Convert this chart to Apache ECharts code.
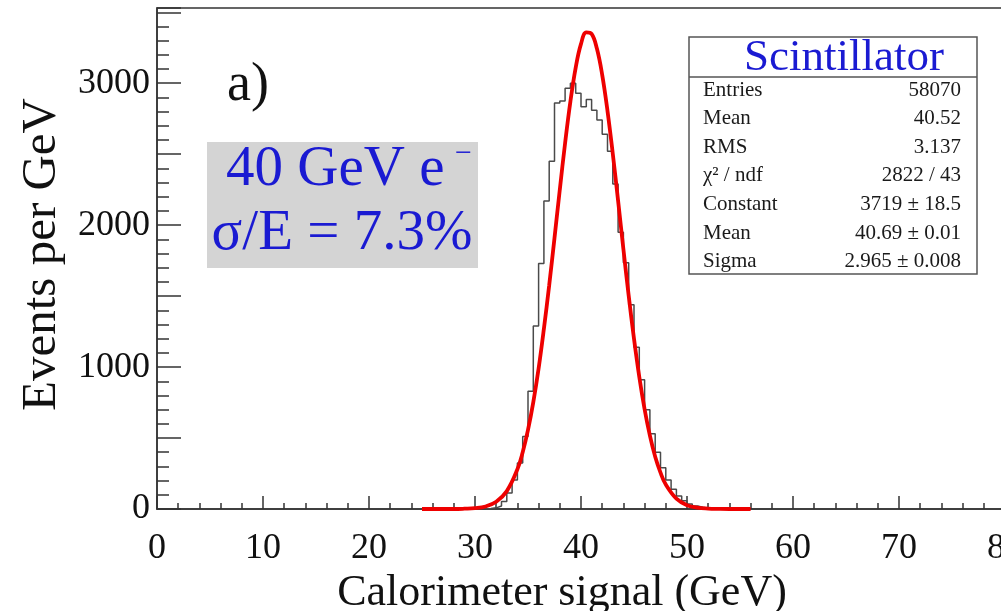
<!DOCTYPE html>
<html>
<head>
<meta charset="utf-8">
<script src="https://cdn.jsdelivr.net/npm/echarts@6/dist/echarts.min.js"></script>
<style>
  html, body { margin: 0; padding: 0; background: #fff; }
  #chart { width: 1001px; height: 611px; }
</style>
</head>
<body>
<div id="chart"></div>
<script>
// Histogram: counts per 0.5 GeV bin, first bin starting at histStart
const histStart = 31.0;
const binWidth = 0.5;
const histCounts = [
  3, 8, 21, 52, 113, 205, 324, 510, 830, 1290,
  1730, 2170, 2450, 2860, 2875, 2965, 3000, 2930, 2835, 2885,
  2810, 2740, 2640, 2520, 2290, 1950, 1735, 1440, 1140, 910,
  700, 530, 400, 290, 205, 140, 92, 58, 36, 21,
  12, 6, 3, 1
];

// Gaussian fit curve sampled along the fit range
const fitX = [25, 26, 27, 28, 29, 30, 31, 32, 33, 34, 34.5, 35, 35.5, 36, 36.5, 37, 37.5, 38, 38.5, 39,
  39.5, 40, 40.5, 41, 41.5, 42, 42.5, 43, 43.5, 44, 44.5, 45, 45.5, 46, 46.5, 47, 47.5, 48, 49, 50,
  51, 52, 53, 54, 55, 56];
const fitY = [0, 0, 0, 0, 2, 6, 18, 51, 126, 280, 400, 557, 753, 990, 1270, 1577, 1910, 2250, 2578, 2871,
  3110, 3277, 3358, 3347, 3244, 3059, 2805, 2502, 2172, 1831, 1503, 1199, 930, 703, 517, 368, 256, 172, 73, 27,
  9, 3, 1, 0, 0, 0];

// Axis settings
const xTicks = [0, 10, 20, 30, 40, 50, 60, 70, 80];
const yLabelValues = [0, 1000, 2000, 3000];

// Statistics box contents
const statsTitle = 'Scintillator';
const statsNames = ['Entries', 'Mean', 'RMS', 'χ² / ndf', 'Constant', 'Mean', 'Sigma'];
const statsValues = ['58070', '40.52', '3.137', '2822 / 43', '3719 ± 18.5', '40.69 ± 0.01', '2.965 ± 0.008'];

const FONT = '"Liberation Serif", "DejaVu Serif", serif';
const BLUE = '#1a1ad2';

// step outline: each bin starts at its lower edge, outline closes back to zero
const histData = [[histStart, 0]];
histCounts.forEach((c, i) => histData.push([histStart + i * binWidth, c]));
histData.push([histStart + histCounts.length * binWidth, 0]);
const fitData = fitX.map((x, i) => [x, fitY[i]]);

const chart = echarts.init(document.getElementById('chart'), null, { renderer: 'canvas' });

const statsTop = 37, statsLeft = 689, statsW = 288, statsH = 237;
const rowY0 = 90, rowStep = 28.6;
const statsGraphics = [
  { type: 'rect', shape: { x: statsLeft, y: statsTop, width: statsW, height: statsH },
    style: { fill: '#fff', stroke: '#555', lineWidth: 1.5 }, z: 10 },
  { type: 'line', shape: { x1: statsLeft, y1: 77, x2: statsLeft + statsW, y2: 77 },
    style: { stroke: '#555', lineWidth: 1.5 }, z: 11 },
  { type: 'text', x: 844, y: 58, z: 11,
    style: { text: statsTitle, font: '45px ' + FONT, fill: BLUE, align: 'center', verticalAlign: 'middle' } }
];
statsNames.forEach((n, i) => {
  statsGraphics.push({ type: 'text', x: 703, y: rowY0 + i * rowStep, z: 11,
    style: { text: n, font: '21px ' + FONT, fill: '#1a1a1a', align: 'left', verticalAlign: 'middle' } });
  statsGraphics.push({ type: 'text', x: 961, y: rowY0 + i * rowStep, z: 11,
    style: { text: statsValues[i], font: '21px ' + FONT, fill: '#1a1a1a', align: 'right', verticalAlign: 'middle' } });
});

const option = {
  animation: false,
  backgroundColor: '#fff',
  grid: { left: 157, right: -4, top: 8, bottom: 102, show: true, borderColor: '#333', borderWidth: 1.5,
    containLabel: false, outerBoundsMode: 'none' },
  xAxis: {
    type: 'value', min: 0, max: 80, interval: 10,
    name: 'Calorimeter signal (GeV)', nameLocation: 'middle', nameGap: 53,
    nameTextStyle: { fontFamily: FONT, fontSize: 44, color: '#111', padding: [0, 38, 0, 0] },
    axisLine: { show: true, lineStyle: { color: '#333', width: 1.5 } },
    axisTick: { show: true, inside: true, length: 13, lineStyle: { color: '#333', width: 1.5 } },
    minorTick: { show: true, splitNumber: 5, length: 6, lineStyle: { color: '#333', width: 1.5 } },
    splitLine: { show: false },
    axisLabel: { fontFamily: FONT, fontSize: 36, color: '#111', margin: 22, hideOverlap: false,
      formatter: v => (xTicks.indexOf(v) >= 0 ? String(v) : '') }
  },
  yAxis: {
    type: 'value', min: 0, max: 3530, interval: 500,
    name: 'Events per GeV', nameLocation: 'middle', nameGap: 88, nameRotate: 90,
    nameTextStyle: { fontFamily: FONT, fontSize: 49, color: '#111', padding: [0, 0, 0, 8] },
    axisLine: { show: true, lineStyle: { color: '#333', width: 1.5 } },
    axisTick: { show: true, inside: true, length: 24, lineStyle: { color: '#333', width: 1.5 } },
    minorTick: { show: true, splitNumber: 5, length: 12, lineStyle: { color: '#333', width: 1.5 } },
    splitLine: { show: false },
    axisLabel: { fontFamily: FONT, fontSize: 36, color: '#111', margin: 7, showMaxLabel: false,
      formatter: v => (yLabelValues.indexOf(v) >= 0 ? String(v) : '') }
  },
  series: [
    { type: 'line', name: 'histogram', data: histData, step: 'end', symbol: 'none',
      lineStyle: { color: '#4a4a4a', width: 1.5 }, z: 3 },
    { type: 'line', name: 'fit', data: fitData, smooth: 0.4, symbol: 'none',
      lineStyle: { color: '#ee0000', width: 3.8 }, z: 4 }
  ],
  graphic: [
    { type: 'text', x: 227, y: 86, z: 10,
      style: { text: 'a)', font: '54px ' + FONT, fill: '#111', align: 'left', verticalAlign: 'middle' } },
    { type: 'rect', shape: { x: 207, y: 142, width: 271, height: 126 }, style: { fill: '#d4d4d4' }, z: 9 },
    { type: 'text', x: 226, y: 170, z: 10,
      style: { text: '40 GeV e', font: '57px ' + FONT, fill: BLUE, align: 'left', verticalAlign: 'middle' } },
    { type: 'text', x: 455, y: 154, z: 10,
      style: { text: '−', font: '30px ' + FONT, fill: BLUE, align: 'left', verticalAlign: 'middle' } },
    { type: 'text', x: 342, y: 234, z: 10,
      style: { text: 'σ/E = 7.3%', font: '57px ' + FONT, fill: BLUE, align: 'center', verticalAlign: 'middle' } }
  ].concat(statsGraphics)
};

chart.setOption(option);
</script>
</body>
</html>
